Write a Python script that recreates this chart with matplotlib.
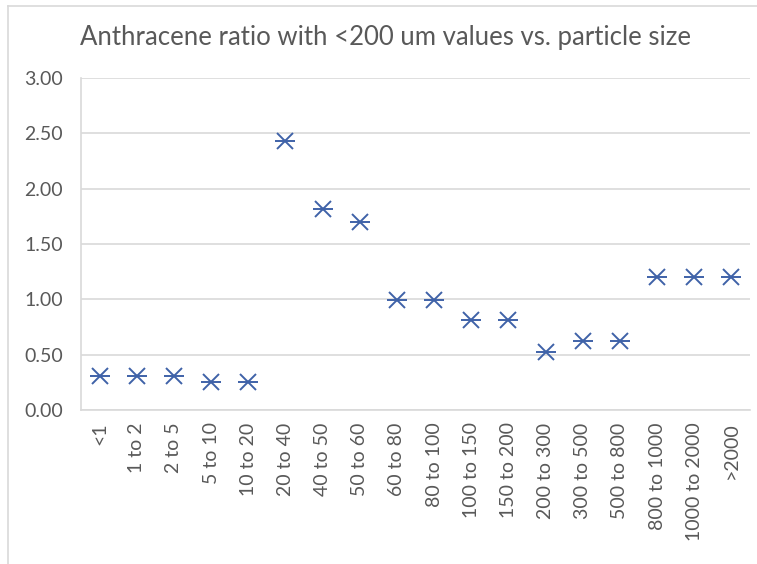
import matplotlib.pyplot as plt
import numpy as np

categories = ['<1', '1 to 2', '2 to 5', '5 to 10', '10 to 20', '20 to 40',
              '40 to 50', '50 to 60', '60 to 80', '80 to 100', '100 to 150',
              '150 to 200', '200 to 300', '300 to 500', '500 to 800',
              '800 to 1000', '1000 to 2000', '>2000']
ratios = [0.31, 0.31, 0.31, 0.25, 0.25, 2.43, 1.82, 1.70, 0.99, 0.99,
          0.81, 0.81, 0.52, 0.62, 0.62, 1.20, 1.20, 1.20]
yticks = [0.0, 0.5, 1.0, 1.5, 2.0, 2.5, 3.0]

W, H = 757, 564
plt.rcParams['font.family'] = ['Lato', 'DejaVu Sans']


def plot():
    fig = plt.figure(figsize=(W / 100, H / 100), dpi=100)
    ax = fig.add_axes([81 / W, 1 - 410 / H, (750 - 81) / W, (410 - 78) / H])

    x = np.arange(len(categories))
    color = '#3F62A8'
    ax.plot(x, ratios, linestyle='none', marker='x', markersize=11,
            markeredgewidth=1.4, color=color)
    ax.plot(x, ratios, linestyle='none', marker='_', markersize=15,
            markeredgewidth=1.4, color=color)

    ax.set_xlim(-0.5, len(categories) - 0.5)
    ax.set_ylim(0, 3)
    ax.set_yticks(yticks)
    ax.set_yticklabels(['%.2f' % v for v in yticks])
    ax.set_xticks(x)
    ax.set_xticklabels(categories, rotation=90)
    ax.tick_params(axis='both', length=0, labelsize=14, colors='#595959')
    ax.tick_params(axis='y', pad=13)
    ax.tick_params(axis='x', pad=9)

    ax.grid(axis='y', color='#D9D9D9', linewidth=1.2)
    ax.set_axisbelow(True)
    for side in ['top', 'right']:
        ax.spines[side].set_visible(False)
    ax.spines['left'].set_color('#D9D9D9')
    ax.spines['bottom'].set_color('#D9D9D9')
    ax.spines['left'].set_linewidth(1.2)
    ax.spines['bottom'].set_linewidth(1.2)

    fig.text(385 / W, 1 - 38 / H, 'Anthracene ratio with <200 um values vs. particle size',
             ha='center', va='center', fontsize=18.5, color='#595959')

    # outer chart border (top and left edges visible in the crop)
    fig.add_artist(plt.Line2D([8 / W, 1], [1 - 6 / H, 1 - 6 / H],
                              transform=fig.transFigure, color='#D9D9D9', linewidth=1.2))
    fig.add_artist(plt.Line2D([8 / W, 8 / W], [0, 1 - 6 / H],
                              transform=fig.transFigure, color='#D9D9D9', linewidth=1.2))

    fig.savefig('out.png', dpi=100)


if __name__ == '__main__':
    plot()
